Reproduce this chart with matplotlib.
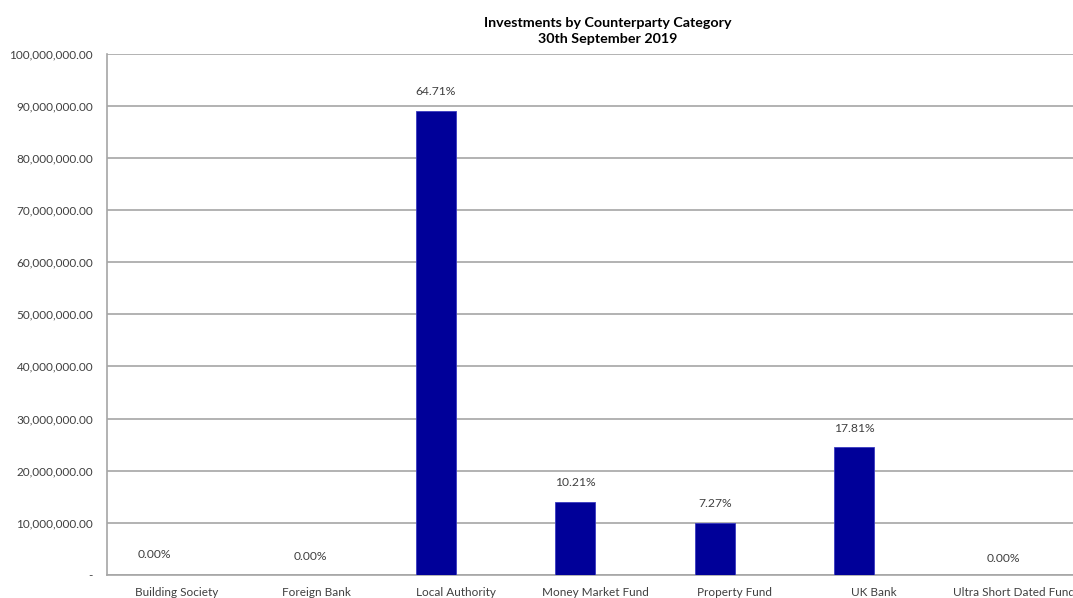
import matplotlib
matplotlib.use("Agg")
import matplotlib.pyplot as plt
from matplotlib.ticker import FuncFormatter

categories = ["Building Society", "Foreign Bank", "Local Authority", "Money Market Fund",
              "Property Fund", "UK Bank", "Ultra Short Dated Fund"]
values = [0.0, 0.0, 88_980_000, 14_040_000, 10_000_000, 24_490_000, 0.0]
yticks = [0, 10e6, 20e6, 30e6, 40e6, 50e6, 60e6, 70e6, 80e6, 90e6, 100e6]
title = "Investments by Counterparty Category\n30th September 2019"

total = sum(values)
pct_labels = [f"{v / total * 100:.2f}%" for v in values]

plt.rcParams['font.family'] = ['Lato', 'DejaVu Sans']

fig = plt.figure(figsize=(10.73, 5.98), dpi=100)
ax = fig.add_axes([107 / 1073, 23 / 598, 976.5 / 1073, 521.5 / 598])

x = list(range(len(categories)))
bar_off = -0.143
bar_w = 0.285
ax.bar([i + bar_off for i in x], values, width=bar_w, color="#000099",
       edgecolor="#3a3ac0", linewidth=0.6, zorder=3)

ax.set_xlim(-0.5, len(categories) - 0.5)
ax.set_ylim(0, 100e6)
ax.set_yticks(yticks)
ax.yaxis.set_major_formatter(FuncFormatter(lambda v, p: "-" if v == 0 else f"{v:,.2f}"))
ax.set_xticks(x)
ax.set_xticklabels(categories)
ax.grid(axis="y", color="#a6a6a6", linewidth=1.2, zorder=0)
ax.tick_params(axis="both", length=0, labelsize=8.5, labelcolor="#404040")
ax.tick_params(axis="x", pad=9)
ax.tick_params(axis="y", pad=10)
for s in ["top", "right"]:
    ax.spines[s].set_visible(False)
for s in ["left", "bottom"]:
    ax.spines[s].set_color("#a6a6a6")
    ax.spines[s].set_linewidth(1.2)

zero_dx = [-2, 14, 0, 0, 0, 0, 10]
zero_dy = [20, 18, 0, 0, 0, 0, 17]
for i, (v, lab) in enumerate(zip(values, pct_labels)):
    if v == 0:
        ax.annotate(lab, (i + bar_off, 0), xytext=(zero_dx[i] * 0.72, zero_dy[i] * 0.72),
                    textcoords="offset points", ha="center", va="center",
                    fontsize=8.7, color="#404040")
    else:
        ax.annotate(lab, (i + bar_off, v), xytext=(0, 19 * 0.72),
                    textcoords="offset points", ha="center", va="center",
                    fontsize=8.7, color="#404040")

fig.text(607.5 / 1073, 1 - 31 / 598, title, ha="center", va="center",
         fontsize=10.3, fontweight="bold", color="#000000", linespacing=1.45)

fig.savefig("out.png", dpi=100, facecolor="white")
